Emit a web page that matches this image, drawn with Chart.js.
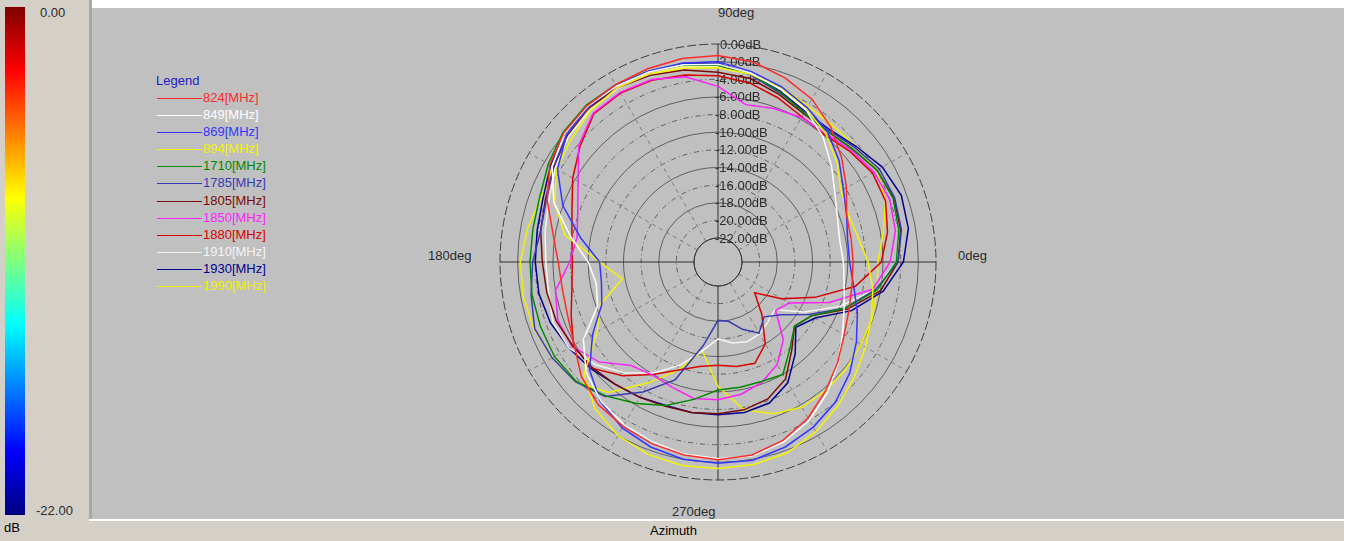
<!DOCTYPE html>
<html>
<head>
<meta charset="utf-8">
<script src="https://cdn.jsdelivr.net/npm/chart.js@4.4.1/dist/chart.umd.min.js"></script>
<style>
  html, body { margin: 0; padding: 0; width: 1351px; height: 541px; overflow: hidden; background: #ffffff; font-family: "Liberation Sans", Arial, sans-serif; }
  .abs { position: absolute; }
  #leftPanel { left: 0; top: 0; width: 89px; height: 541px; background: #d4d0c8; }
  #leftEdge { left: 89px; top: 0; width: 3px; height: 519px; background: #a8a8a8; }
  #colorBar { left: 5px; top: 7px; width: 20px; height: 508px;
    background: linear-gradient(to bottom, #7f0000 0%, #ff0000 12.5%, #ffff00 37.5%, #00ffff 62.5%, #0000ff 87.5%, #00007f 100%); }
  #plotPanel { left: 92px; top: 8px; width: 1252px; height: 511px; background: #c0c0c0; }
  #bottomBar { left: 0; top: 521px; width: 1344px; height: 20px; background: #d4d0c8; }
  .txt { font-size: 13px; color: #2c2c2c; white-space: nowrap; line-height: 14px; }
  #legend { left: 156px; top: 73px; }
  #legend .title { color: #2020c8; font-size: 13px; line-height: 16px; margin-bottom: 1px; }
  #legend .item { position: relative; height: 17.1px; }
  #legend .item .ln { position: absolute; left: 1px; top: 8px; width: 45px; height: 1px; }
  #legend .item .lb { position: absolute; left: 47px; top: 1px; font-size: 13px; line-height: 14px; white-space: nowrap; }
  canvas { position: absolute; left: 0; top: 0; }
</style>
</head>
<body>
<div id="leftPanel" class="abs"></div>
<div id="leftEdge" class="abs"></div>
<div id="colorBar" class="abs"></div>
<div id="plotPanel" class="abs"></div>
<div id="bottomBar" class="abs"></div>

<div class="abs txt" style="left:40px;top:6px;">0.00</div>
<div class="abs txt" style="left:36px;top:504px;">-22.00</div>
<div class="abs txt" style="left:4px;top:521px;color:#000;">dB</div>
<div class="abs txt" style="left:650px;top:524px;color:#000;">Azimuth</div>

<div class="abs txt" style="left:718px;top:6px;">90deg</div>
<div class="abs txt" style="left:958px;top:249px;">0deg</div>
<div class="abs txt" style="left:428px;top:249px;">180deg</div>
<div class="abs txt" style="left:672px;top:505px;">270deg</div>

<div id="legend" class="abs"><div class="title">Legend</div></div>

<canvas id="polar" width="1351" height="541"></canvas>

<script>
// Azimuth of each sample, degrees counter-clockwise from 0deg (right)
const AZIMUTHS = [0, 10, 20, 30, 40, 50, 60, 70, 80, 90, 100, 110, 120, 130, 140, 150, 160, 170,
                  180, 190, 200, 210, 220, 230, 240, 250, 260, 270, 280, 290, 300, 310, 320, 330, 340, 350];

// Ring values of the radial axis (dB)
const RING_VALUES = [-22, -20, -18, -16, -14, -12, -10, -8, -6, -4, -2, 0];

// Measured gain (dB) per frequency, one value per azimuth above
const f824  = [-9.4,-9.4,-9.2,-7.9,-6.4,-4.8,-3.4,-2.5,-1.7,-1.3,-1.3,-1.4,-1.5,-1.6,-1.9,-2.7,-4.1,-5.7,-6.6,-6.8,-6.6,-5.9,-4.5,-3.6,-3.2,-2.8,-2.5,-2.3,-2.5,-3.2,-4.3,-5.7,-7.0,-8.2,-8.9,-9.3];
const f849  = [-10.5,-10.7,-10.3,-9.4,-7.9,-6.2,-4.8,-3.9,-3.0,-2.3,-2.0,-1.8,-1.7,-1.7,-2.0,-3.0,-4.9,-7.7,-10.0,-10.7,-10.2,-7.1,-5.2,-4.1,-3.4,-3.0,-2.6,-2.4,-2.4,-3.0,-4.0,-5.4,-6.9,-8.4,-9.5,-10.2];
const f869  = [-9.8,-9.8,-9.2,-8.3,-6.8,-5.4,-4.5,-3.6,-2.8,-2.0,-1.8,-1.7,-1.6,-1.8,-2.3,-3.7,-6.0,-8.9,-11.3,-11.3,-10.7,-8.3,-5.7,-4.0,-3.0,-2.4,-2.0,-1.9,-1.9,-2.4,-3.1,-4.0,-5.2,-6.6,-7.9,-9.1];
const f894  = [-7.7,-8.6,-9.0,-8.6,-7.1,-5.7,-4.7,-3.7,-3.1,-2.7,-2.4,-2.0,-1.9,-2.3,-3.0,-3.6,-5.0,-7.1,-11.3,-13.7,-10.5,-8.9,-4.9,-3.0,-2.0,-1.5,-1.3,-1.3,-1.4,-1.7,-2.5,-3.5,-4.5,-5.4,-6.2,-6.9];
const f1710 = [-4.5,-3.9,-3.6,-3.9,-4.8,-5.4,-5.2,-4.2,-3.1,-2.4,-2.0,-1.7,-1.5,-1.5,-1.8,-2.5,-3.2,-3.4,-3.4,-3.3,-3.3,-3.3,-3.7,-4.9,-6.2,-7.4,-8.9,-10.2,-10.3,-10.3,-10.0,-12.0,-13.4,-12.5,-9.4,-6.4];
const f1785 = [-4.3,-3.6,-3.4,-3.6,-4.5,-5.2,-5.1,-4.3,-3.2,-2.4,-2.0,-1.8,-1.7,-1.8,-2.3,-3.2,-4.0,-4.3,-3.7,-3.2,-2.6,-3.0,-3.6,-4.8,-7.7,-10.5,-15.1,-18.1,-17.9,-16.6,-15.4,-16.6,-15.4,-12.8,-9.4,-6.6];
const f1805 = [-4.3,-3.7,-3.5,-3.9,-4.8,-5.4,-5.3,-4.5,-3.6,-3.2,-2.6,-2.2,-1.9,-1.9,-2.4,-3.2,-3.9,-4.3,-4.8,-5.0,-5.2,-5.7,-6.1,-6.6,-7.0,-7.3,-7.4,-7.5,-7.7,-8.2,-9.4,-11.7,-13.4,-12.5,-9.1,-6.0];
const f1850 = [-5.2,-4.3,-4.0,-4.3,-5.0,-5.7,-5.8,-6.2,-6.6,-4.8,-3.4,-2.7,-2.5,-2.7,-4.1,-6.4,-7.8,-8.5,-7.9,-6.0,-5.4,-5.6,-7.1,-9.4,-9.9,-9.6,-9.0,-9.1,-9.5,-10.2,-11.3,-13.2,-16.2,-15.4,-11.3,-6.9];
const f1880 = [-6.2,-5.2,-4.5,-4.5,-5.2,-5.9,-5.7,-4.9,-4.1,-3.6,-3.2,-2.8,-2.6,-2.8,-4.3,-5.7,-7.1,-7.9,-8.2,-7.9,-7.0,-5.8,-6.0,-7.9,-10.0,-11.7,-12.7,-13.0,-12.7,-12.5,-14.0,-17.0,-19.3,-16.4,-13.0,-8.9];
const f1910 = [-4.5,-3.9,-3.6,-3.9,-4.8,-5.4,-5.2,-4.3,-3.2,-2.6,-2.3,-2.0,-2.0,-2.2,-2.6,-3.4,-4.3,-4.8,-5.2,-5.2,-4.8,-5.2,-6.6,-8.3,-10.2,-12.3,-14.5,-16.0,-15.4,-15.1,-15.3,-15.9,-16.3,-13.4,-10.0,-6.6];
const f1930 = [-3.7,-2.8,-2.6,-3.2,-4.3,-5.1,-5.0,-4.1,-3.1,-2.2,-1.9,-1.7,-1.6,-1.7,-2.0,-2.8,-3.6,-3.9,-4.0,-4.1,-4.5,-5.2,-5.9,-6.6,-7.0,-7.4,-7.4,-7.4,-7.4,-7.7,-8.9,-11.1,-13.2,-12.0,-8.6,-5.7];
const f1990 = [-6.6,-5.7,-4.5,-3.9,-4.3,-4.5,-4.3,-3.6,-3.1,-2.6,-2.2,-1.8,-1.6,-1.9,-2.5,-3.1,-3.4,-2.8,-2.3,-2.3,-2.5,-3.0,-3.6,-5.4,-8.9,-11.7,-14.5,-10.6,-7.7,-6.4,-5.7,-5.7,-5.8,-6.0,-6.1,-6.4];

const SERIES_NAMES  = ['824[MHz]', '849[MHz]', '869[MHz]', '894[MHz]', '1710[MHz]', '1785[MHz]',
                       '1805[MHz]', '1850[MHz]', '1880[MHz]', '1910[MHz]', '1930[MHz]', '1990[MHz]'];
const SERIES_VALUES = [f824, f849, f869, f894, f1710, f1785, f1805, f1850, f1880, f1910, f1930, f1990];
const SERIES_COLORS = ['#ff2a2a', '#ffffff', '#3535ff', '#f4f400', '#008a00', '#3a3ab4',
                       '#7a0a0a', '#ff20ff', '#d80000', '#f4f4f4', '#000090', '#f0f000'];

// Inner hole: the -22 dB ring sits 24 px from the centre, 194 px below the 0 dB ring
const OUTER_RADIUS = 218;
const HOLE_RADIUS = 24;
const CENTER_VALUE = RING_VALUES[0] - HOLE_RADIUS * (0 - RING_VALUES[0]) / (OUTER_RADIUS - HOLE_RADIUS);

// The radar scale runs clockwise from the top; azimuth runs counter-clockwise from the right.
const n = AZIMUTHS.length;
const step = 360 / n;
const topIndex = AZIMUTHS.indexOf(90);
const order = AZIMUTHS.map((_, i) => (topIndex - i + n) % n);
const labels = order.map(k => AZIMUTHS[k] + 'deg');

const datasets = SERIES_VALUES.map((vals, s) => ({
  label: SERIES_NAMES[s],
  data: order.map(k => vals[k]),
  borderColor: SERIES_COLORS[s],
  backgroundColor: 'transparent',
  borderWidth: 1.5,
  fill: false,
  pointRadius: 0,
  tension: 0
}));

// Legend block: sample line + coloured name
const legendEl = document.getElementById('legend');
SERIES_NAMES.forEach((name, s) => {
  const item = document.createElement('div');
  item.className = 'item';
  const ln = document.createElement('div');
  ln.className = 'ln';
  ln.style.background = SERIES_COLORS[s];
  const lb = document.createElement('div');
  lb.className = 'lb';
  lb.style.color = SERIES_COLORS[s];
  lb.textContent = name;
  item.appendChild(ln);
  item.appendChild(lb);
  legendEl.appendChild(item);
});

const azimuthOfIndex = (i) => ((90 - i * step) % 360 + 360) % 360;

// Hole in the middle plus the dB labels along the 90deg axis
const polarDecor = {
  id: 'polarDecor',
  beforeDatasetsDraw(chart) {
    const s = chart.scales.r;
    const c = chart.ctx;
    const rh = s.getDistanceFromCenterForValue(RING_VALUES[0]);
    c.save();
    c.beginPath();
    c.arc(s.xCenter, s.yCenter, rh - 0.6, 0, Math.PI * 2);
    c.fillStyle = '#c0c0c0';
    c.fill();
    c.beginPath();
    c.arc(s.xCenter, s.yCenter, rh, 0, Math.PI * 2);
    c.strokeStyle = '#3a3a3a';
    c.lineWidth = 1;
    c.stroke();
    c.font = '13px "Liberation Sans", Arial, sans-serif';
    c.fillStyle = '#2c2c2c';
    c.textAlign = 'left';
    c.textBaseline = 'middle';
    RING_VALUES.forEach(v => {
      const y = s.yCenter - s.getDistanceFromCenterForValue(v);
      const txt = v.toFixed(2) + 'dB';
      c.fillText(txt, v < 0 ? s.xCenter - 3 : s.xCenter + 2, y + 1);
    });
    c.restore();
  }
};

new Chart(document.getElementById('polar'), {
  type: 'radar',
  data: { labels, datasets },
  plugins: [polarDecor],
  options: {
    responsive: false,
    animation: false,
    devicePixelRatio: 1,
    layout: { padding: { left: 718 - OUTER_RADIUS, right: 1351 - 718 - OUTER_RADIUS, top: 262 - OUTER_RADIUS, bottom: 541 - 262 - OUTER_RADIUS } },
    plugins: { legend: { display: false }, tooltip: { enabled: false } },
    elements: { point: { radius: 0 }, line: { tension: 0 } },
    scales: {
      r: {
        min: CENTER_VALUE,
        max: 0,
        startAngle: 0,
        afterBuildTicks: (scale) => { scale.ticks = RING_VALUES.map(v => ({ value: v })); },
        ticks: { display: false },
        pointLabels: { display: false },
        grid: {
          circular: true,
          color: (ctx) => {
            const v = ctx.tick ? ctx.tick.value : 0;
            if (v === 0) return '#3c3c3c';
            if (v === RING_VALUES[0]) return '#3a3a3a';
            return '#5e5e5e';
          },
          lineWidth: 1
        },
        border: {
          dash: (ctx) => {
            const v = ctx.tick ? ctx.tick.value : 0;
            if (v === 0) return [9, 3];
            return ((v - RING_VALUES[0]) % 4 === 0) ? [] : [5, 3, 1, 3];
          }
        },
        angleLines: {
          color: (ctx) => {
            const a = azimuthOfIndex(ctx.index);
            if (a % 90 === 0) return '#2e2e2e';
            if (a % 30 === 0) return '#7c7c7c';
            return 'rgba(0,0,0,0)';
          },
          lineWidth: (ctx) => {
            const a = azimuthOfIndex(ctx.index);
            return (a % 30 === 0) ? 1 : 0;
          },
          borderDash: (ctx) => {
            const a = azimuthOfIndex(ctx.index);
            return (a % 90 === 0) ? [] : [4, 4];
          }
        }
      }
    }
  }
});
</script>
</body>
</html>
